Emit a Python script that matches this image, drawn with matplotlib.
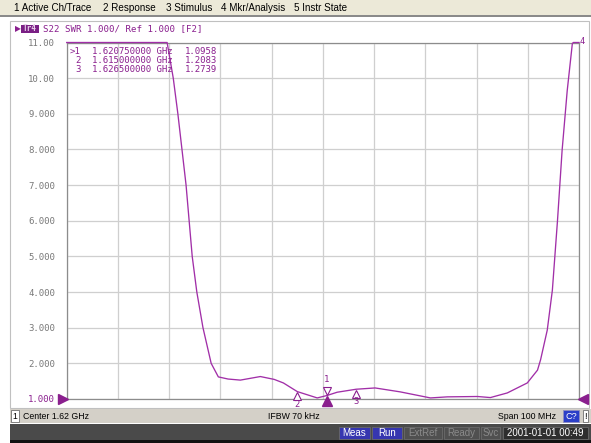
import matplotlib
matplotlib.use('Agg')
import matplotlib.pyplot as plt
from matplotlib.patches import Rectangle
from matplotlib import transforms

W, H = 591, 443

# ---------------- data ----------------
menu_items = ["1 Active Ch/Trace", "2 Response", "3 Stimulus", "4 Mkr/Analysis", "5 Instr State"]
menu_x = [14, 103, 166, 221, 294]
trace_name = "Tr4"
trace_header = "S22 SWR 1.000/ Ref 1.000 [F2]"

freq_mhz = [1570.0, 1589.6, 1590.8, 1591.7, 1592.5, 1593.3, 1593.9, 1594.5, 1595.4,
            1596.6, 1598.2, 1599.6, 1601.5, 1603.9, 1607.8, 1610.5, 1612.3, 1615.0,
            1618.9, 1620.75, 1622.8, 1626.5, 1630.2, 1635.1, 1641.0, 1644.3, 1650.2,
            1652.7, 1656.0, 1659.9, 1661.9, 1662.5, 1663.8, 1664.8, 1665.8, 1666.7,
            1667.7, 1668.7, 1668.9, 1670.0]
swr = [11.0, 11.0, 10.0, 9.0, 8.0, 7.0, 6.0, 5.0, 4.0,
       3.0, 2.0, 1.62, 1.56, 1.53, 1.63, 1.55, 1.45, 1.2083,
       1.03, 1.0958, 1.19, 1.2739, 1.31, 1.2, 1.03, 1.06, 1.07,
       1.04, 1.17, 1.45, 1.81, 2.1, 2.93, 4.05, 6.0, 7.97,
       9.65, 10.97, 11.0, 11.0]

marker_ids = [">1", "2", "3"]
marker_freq = [1620.75, 1615.0, 1626.5]
marker_freq_text = ["1.620750000", "1.615000000", "1.626500000"]
marker_swr = [1.0958, 1.2083, 1.2739]
marker4_freq = 1670.0

ytick_vals = [1, 2, 3, 4, 5, 6, 7, 8, 9, 10, 11]
ytick_labels = ["1.000", "2.000", "3.000", "4.000", "5.000", "6.000",
                "7.000", "8.000", "9.000", "10.00", "11.00"]
xtick_vals = [1570, 1580, 1590, 1600, 1610, 1620, 1630, 1640, 1650, 1660, 1670]

center_text = "Center 1.62 GHz"
ifbw_text = "IFBW 70 kHz"
span_text = "Span 100 MHz"
status_buttons = ["Meas", "Run", "ExtRef", "Ready", "Svc"]
datetime_text = "2001-01-01 00:49"

# ---------------- style ----------------
PURPLE = '#a12fa8'
TXT_PURPLE = '#8a1f8e'
GRAY_TXT = '#787878'
GRID = '#cfcfcf'
FRAME = '#8c8c8c'
MONO = 'DejaVu Sans Mono'
SANS = 'Liberation Sans'

fig = plt.figure(figsize=(W / 100, H / 100), dpi=100)
fig.patch.set_facecolor('white')

bg = fig.add_axes([0, 0, 1, 1], zorder=0)
bg.set_xlim(0, W)
bg.set_ylim(H, 0)
bg.axis('off')

# menu bar
bg.add_patch(Rectangle((0, 0), W, 15, facecolor='#ece9d8', edgecolor='none'))
bg.add_patch(Rectangle((0, 15), W, 2, facecolor='#8a8a8a', edgecolor='none'))
for txt, x in zip(menu_items, menu_x):
    bg.text(x, 8, txt, fontsize=7.1, family=SANS, color='black', va='center', ha='left')

# panel border
bg.add_patch(Rectangle((10, 21), W - 12, 387, facecolor='white', edgecolor='#c0c0c0', lw=0.8))

# trace header
bg.text(15, 28.5, '\u25B6', fontsize=5.5, color=TXT_PURPLE, va='center', ha='left')
bg.add_patch(Rectangle((21, 25), 18, 7.5, facecolor='#7a1f84', edgecolor='none'))
bg.text(30, 28.7, trace_name, fontsize=5.6, family=MONO, color='#e8d0ea',
        va='center', ha='center', weight='bold')
bg.text(43, 29, trace_header, fontsize=6.6, family=MONO, color=TXT_PURPLE,
        va='center', ha='left')

# status bar
bg.add_patch(Rectangle((10, 409), W - 10, 14, facecolor='#d4d0c8', edgecolor='none'))
bg.add_patch(Rectangle((11, 410), 8, 12, facecolor='white', edgecolor='#707070', lw=0.6))
bg.text(15, 416.5, "1", fontsize=6.2, family=SANS, color='black', va='center', ha='center')
bg.text(23, 416.5, center_text, fontsize=6.3, family=SANS, color='black', va='center', ha='left')
bg.text(268, 416.5, ifbw_text, fontsize=6.3, family=SANS, color='black', va='center', ha='left')
bg.text(556, 416.5, span_text, fontsize=6.3, family=SANS, color='black', va='center', ha='right')
bg.add_patch(Rectangle((563, 410), 16, 12, facecolor='#2c3fc8', edgecolor='#9090c0', lw=0.6))
bg.text(571, 416.5, "C?", fontsize=6.6, family=SANS, color='white', va='center', ha='center')
bg.add_patch(Rectangle((583, 410), 5, 12, facecolor='white', edgecolor='#707070', lw=0.6))
bg.text(585.5, 416.5, "!", fontsize=6.4, family=SANS, color='black', va='center', ha='center')

# bottom dark bar
bg.add_patch(Rectangle((10, 424), W - 10, 19, facecolor='#4a4a4a', edgecolor='none'))
bg.add_patch(Rectangle((10, 440), W - 10, 3, facecolor='#111111', edgecolor='none'))
btn_x = [339, 372, 404, 444, 481]
btn_w = [31, 30, 38, 35, 19]
btn_face = ['#3636b0', '#3636b0', '#505050', '#505050', '#505050']
btn_col = ['white', 'white', '#8a8a8a', '#8a8a8a', '#8a8a8a']
for lab, x, w, fc, tc in zip(status_buttons, btn_x, btn_w, btn_face, btn_col):
    bg.add_patch(Rectangle((x, 427), w, 12, facecolor=fc, edgecolor='#6a6a6a', lw=0.6))
    bg.text(x + w / 2, 433.3, lab, fontsize=7.0, family=SANS, color=tc, va='center', ha='center')
bg.add_patch(Rectangle((503, 427), 85, 12, facecolor='#2e2e2e', edgecolor='#6a6a6a', lw=0.6))
bg.text(545.5, 433.3, datetime_text, fontsize=7.0, family=SANS, color='white',
        va='center', ha='center')

# ---------------- chart ----------------
ax = fig.add_axes([66.7 / W, 1 - 399 / H, (579 - 66.7) / W, (399 - 42.5) / H], zorder=2)
ax.set_facecolor('white')
ax.set_xlim(1570, 1670)
ax.set_ylim(1, 11)
ax.set_xticks(xtick_vals)
ax.set_xticklabels([])
ax.set_yticks(ytick_vals)
ax.set_yticklabels(ytick_labels, family=MONO, fontsize=6.5, color=GRAY_TXT)
ax.get_yticklabels()[0].set_color(TXT_PURPLE)
ax.tick_params(length=0, pad=8.3)
ax.grid(True, color=GRID, lw=0.9)
for s in ax.spines.values():
    s.set_color(FRAME)
    s.set_linewidth(0.9)

ax.plot(freq_mhz, swr, color=PURPLE, lw=0.95, clip_on=False, zorder=3)

def off(dx, dy):
    return transforms.offset_copy(ax.transData, fig=fig, x=dx, y=dy, units='dots')

# marker table
rows_y = [52, 60.5, 69]
for mid, ftxt, val, yy in zip(marker_ids, marker_freq_text, marker_swr, rows_y):
    kw = dict(fontsize=6.5, family=MONO, color=TXT_PURPLE, va='center', ha='left', zorder=5)
    fig.text(70 / W if mid.startswith('>') else 75.5 / W, 1 - yy / H, mid, **kw)
    fig.text(92 / W, 1 - yy / H, ftxt + " GHz", **kw)
    fig.text(185 / W, 1 - yy / H, "%.4f" % val, **kw)

# active marker 1
ax.plot([marker_freq[0]], [marker_swr[0]], marker='v', ms=6, mfc='white', mec=TXT_PURPLE,
        mew=0.8, transform=off(0, 4.5), clip_on=False, zorder=6)
ax.text(marker_freq[0], marker_swr[0], "1", transform=off(0, 12), fontsize=6.5, family=MONO,
        color=TXT_PURPLE, ha='center', va='bottom', zorder=6)
ax.plot([marker_freq[0]], [1], marker='^', ms=6.5, color=TXT_PURPLE,
        transform=off(0, -1.5), clip_on=False, zorder=6)
# markers 2, 3
for mid, f, v in zip(marker_ids[1:], marker_freq[1:], marker_swr[1:]):
    ax.plot([f], [v], marker='^', ms=6, mfc='white', mec=TXT_PURPLE, mew=0.8,
            transform=off(0, -4.5), clip_on=False, zorder=6)
    ax.text(f, v, mid, transform=off(0, -8), fontsize=6.3, family=MONO,
            color=TXT_PURPLE, ha='center', va='top', zorder=6)
# marker 4 (clamped at top)
ax.text(marker4_freq, 11, "4", transform=off(3, 1), fontsize=6.3, family=MONO,
        color=TXT_PURPLE, ha='center', va='center', zorder=6)

# reference level indicators
ax.plot([1570], [1], marker='>', ms=6.5, color=TXT_PURPLE, transform=off(-3.5, 0),
        clip_on=False, zorder=6)
ax.plot([1670], [1], marker='<', ms=6.5, color=TXT_PURPLE, transform=off(4, 0),
        clip_on=False, zorder=6)

fig.savefig('out.png', dpi=100, facecolor='white')
